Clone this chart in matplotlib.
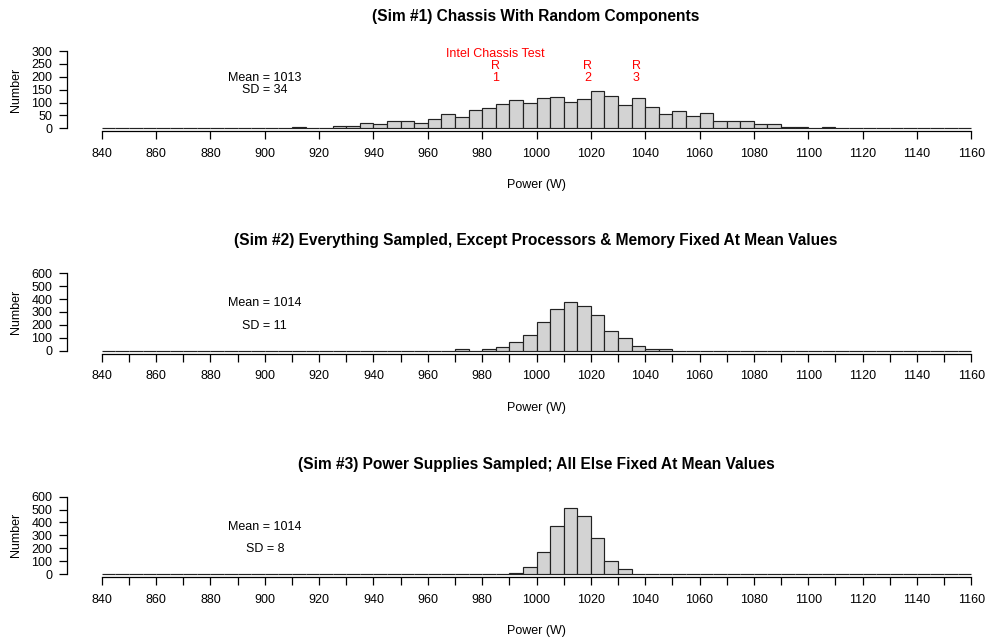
import matplotlib
matplotlib.use("Agg")
import matplotlib.pyplot as plt
import numpy as np

plt.rcParams['font.family'] = ['Liberation Sans', 'DejaVu Sans']

# histogram bins (5 W wide) over the full axis range
bin_width = 5
x_lo, x_hi = 840, 1160

# Sim 1: counts per bin starting at 910 W
sim1_start = 910
sim1_counts = [5, 0, 0, 10, 10, 20, 15, 30, 30, 20, 37, 57, 43, 71, 80, 94, 109, 100,
               116, 122, 103, 113, 145, 125, 89, 116, 84, 57, 67, 47, 58, 30, 30, 30,
               15, 15, 5, 5, 0, 4]
# Sim 2: counts per bin starting at 970 W
sim2_start = 970
sim2_counts = [10, 0, 10, 26, 65, 119, 220, 320, 377, 346, 274, 155, 98, 34, 10, 10]
# Sim 3: counts per bin starting at 990 W
sim3_start = 990
sim3_counts = [8, 57, 173, 375, 514, 450, 276, 98, 36]

titles = ["(Sim #1) Chassis With Random Components",
          "(Sim #2) Everything Sampled, Except Processors & Memory Fixed At Mean Values",
          "(Sim #3) Power Supplies Sampled; All Else Fixed At Mean Values"]
means = ["Mean = 1013", "Mean = 1014", "Mean = 1014"]
sds = ["SD = 34", "SD = 11", "SD = 8"]
mean_y = [196, 367, 362]
sd_y = [149, 191, 191]
y_max = [300, 600, 600]
y_step = [50, 100, 100]
x_step = [20, 10, 10]

# red markers for the Intel chassis test runs (panel 1)
test_x = [985, 1018.8, 1036.8]
test_names = ["1", "2", "3"]

W, H = 989, 640
fig = plt.figure(figsize=(W / 100, H / 100), dpi=100)

# panel extents in pixels: (top, bottom), and title centre rows
panels_px = [(48, 131.4), (270.2, 353.8), (493.6, 577.1)]
title_px = [17, 241, 464]
left_px, right_px = 67, 1006

edges = np.arange(x_lo, x_hi, bin_width)
for i, (start, counts) in enumerate([(sim1_start, sim1_counts),
                                     (sim2_start, sim2_counts),
                                     (sim3_start, sim3_counts)]):
    top, bot = panels_px[i]
    ax = fig.add_axes([left_px / W, 1 - bot / H, (right_px - left_px) / W, (bot - top) / H])
    full = np.zeros(len(edges))
    idx = (start - x_lo) // bin_width
    full[idx:idx + len(counts)] = counts
    ax.bar(edges, full, width=bin_width, align='edge', color='#d3d3d3',
           edgecolor='#222222', linewidth=0.85)

    ym = y_max[i]
    ax.set_xlim(x_lo - 0.04 * (x_hi - x_lo), x_hi + 0.04 * (x_hi - x_lo))
    ax.set_ylim(-0.04 * ym, ym * 1.04)
    for s in ['top', 'right']:
        ax.spines[s].set_visible(False)
    ax.spines['left'].set_bounds(0, ym)
    ax.spines['bottom'].set_bounds(x_lo, x_hi)
    for s in ['left', 'bottom']:
        ax.spines[s].set_linewidth(0.9)

    ax.set_yticks(np.arange(0, ym + 1, y_step[i]))
    xt = np.arange(x_lo, x_hi + 1, x_step[i])
    ax.set_xticks(xt)
    ax.set_xticklabels([str(v) if v % 20 == 0 else '' for v in xt])
    ax.tick_params(axis='both', labelsize=9, length=5.5, width=0.9, color='black')
    ax.tick_params(axis='y', pad=5)
    ax.tick_params(axis='x', pad=6.5)

    fig.text(536 / W, 1 - title_px[i] / H, titles[i],
             ha='center', va='center', fontsize=11.2, fontweight='bold')
    fig.text(536 / W, 1 - (bot + 54) / H, "Power (W)", ha='center', va='center', fontsize=9)
    fig.text(16 / W, 1 - (top + bot) / 2 / H, "Number", rotation=90,
             ha='center', va='center', fontsize=9)

    ax.text(900, mean_y[i], means[i], ha='center', va='center', fontsize=9)
    ax.text(900, sd_y[i], sds[i], ha='center', va='center', fontsize=9)

    if i == 0:
        ax.text(985, 288, "Intel Chassis Test", color='red', ha='center', va='center', fontsize=9)
        for tx, name in zip(test_x, test_names):
            ax.text(tx, 242, "R", color='red', ha='center', va='center', fontsize=9)
            ax.text(tx, 195, name, color='red', ha='center', va='center', fontsize=9)

fig.savefig("out.png", dpi=100)
